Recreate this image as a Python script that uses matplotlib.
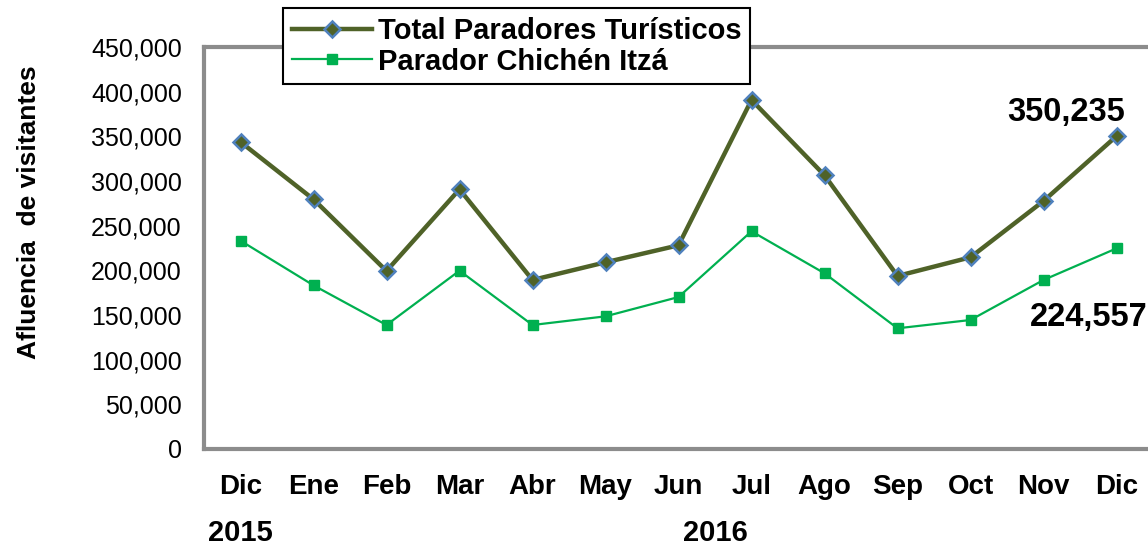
import matplotlib
matplotlib.use("Agg")
import matplotlib.pyplot as plt
from matplotlib.ticker import FuncFormatter

plt.rcParams["font.family"] = ["Liberation Sans", "DejaVu Sans"]

meses = ["Dic", "Ene", "Feb", "Mar", "Abr", "May", "Jun",
         "Jul", "Ago", "Sep", "Oct", "Nov", "Dic"]
total_paradores = [343700, 279500, 199300, 290700, 189200, 209000, 228000,
                   390700, 306400, 193700, 214600, 277600, 350235]
chichen_itza = [233200, 183200, 138800, 199600, 138800, 148500, 170100,
                243700, 196700, 135100, 144400, 189200, 224557]
anios = ["2015", "2016"]

W, H = 1148, 546
fig = plt.figure(figsize=(W / 100, H / 100), dpi=100)
ax = fig.add_axes([204 / W, (H - 449) / H, (1153 - 204) / W, (449 - 47) / H])

x = range(len(meses))
ax.plot(x, total_paradores, color="#4f6228", linewidth=3.2,
        marker="D", markersize=8, markerfacecolor="#4f6228",
        markeredgecolor="#4f81bd", markeredgewidth=1.8,
        label="Total Paradores Turísticos", zorder=3)
ax.plot(x, chichen_itza, color="#00b050", linewidth=1.6,
        marker="s", markersize=6.5, markerfacecolor="#00b050",
        markeredgecolor="#00b050",
        label="Parador Chichén Itzá", zorder=3)

ax.set_xlim(-0.5, len(meses) - 0.5)
ax.set_ylim(0, 450000)
ax.set_yticks(range(0, 450001, 50000))
ax.yaxis.set_major_formatter(FuncFormatter(lambda v, p: f"{int(v):,}"))
ax.set_xticks(list(x))
ax.set_xticklabels(meses, fontsize=20, fontweight="bold")
ax.tick_params(axis="y", labelsize=18, length=0, pad=16)
ax.tick_params(axis="x", length=0, pad=18)

for s in ax.spines.values():
    s.set_color("#8c8c8c")
    s.set_linewidth(3)

ax.set_ylabel("Afluencia  de visitantes", fontsize=19, fontweight="bold")
ax.yaxis.set_label_coords(-163 / (1153 - 204), 0.59)

# etiquetas del ultimo mes
ax.annotate(f"{total_paradores[-1]:,}", xy=(12, total_paradores[-1]),
            xytext=(-36, 17), textcoords="offset points",
            ha="center", va="center", fontsize=23.5, fontweight="bold")
ax.annotate(f"{chichen_itza[-1]:,}", xy=(12, chichen_itza[-1]),
            xytext=(-20, -50), textcoords="offset points",
            ha="center", va="center", fontsize=23.5, fontweight="bold")

fig.text(240 / W, 1 - 533 / H, anios[0], ha="center", va="center",
         fontsize=21, fontweight="bold")
fig.text(715 / W, 1 - 533 / H, anios[1], ha="center", va="center",
         fontsize=21, fontweight="bold")

leg = fig.legend(loc="upper left", bbox_to_anchor=(283 / W, 1 - 8 / H),
                 fancybox=False, framealpha=1, edgecolor="black",
                 prop={"size": 21, "weight": "bold"},
                 handlelength=2.75, handletextpad=0.2, borderpad=0.3,
                 labelspacing=0.1, borderaxespad=0)
leg.get_frame().set_linewidth(1.5)

fig.savefig("out.png", dpi=100)
